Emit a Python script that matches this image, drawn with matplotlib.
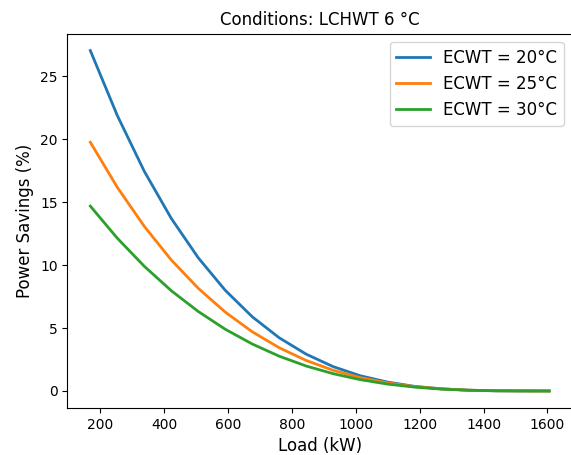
import matplotlib
matplotlib.use("Agg")
import matplotlib.pyplot as plt

# Load points (kW)
load_kw = [169, 253.5, 338, 422.5, 507, 591.5, 676, 760.5, 845,
           929.5, 1014, 1098.5, 1183, 1267.5, 1352, 1436.5, 1521, 1605.5]

# Power savings (%) for each entering condenser water temperature
savings_20 = [27.03, 21.87, 17.44, 13.70, 10.57, 7.99, 5.89, 4.22, 2.92,
              1.93, 1.21, 0.71, 0.37, 0.17, 0.06, 0.015, 0.004, 0.0]
savings_25 = [19.75, 16.17, 13.07, 10.40, 8.15, 6.26, 4.70, 3.43, 2.42,
              1.64, 1.06, 0.64, 0.35, 0.17, 0.065, 0.017, 0.004, 0.0]
savings_30 = [14.68, 12.13, 9.90, 7.96, 6.31, 4.90, 3.73, 2.76, 1.98,
              1.37, 0.90, 0.55, 0.31, 0.15, 0.06, 0.017, 0.004, 0.0]

series = [
    ("ECWT = 20°C", savings_20),
    ("ECWT = 25°C", savings_25),
    ("ECWT = 30°C", savings_30),
]

fig = plt.figure(figsize=(5.71, 4.55), dpi=100)
ax = fig.add_axes([0.118, 0.1033, 0.884, 0.823])

for label, values in series:
    ax.plot(load_kw, values, label=label, linewidth=2)

ax.set_title("Conditions: LCHWT 6 °C", fontsize=12)
ax.set_xlabel("Load (kW)", fontsize=12)
ax.set_ylabel("Power Savings (%)", fontsize=12)
ax.legend(loc="upper right", fontsize=12)

fig.savefig("out.png", dpi=100)
plt.close(fig)
